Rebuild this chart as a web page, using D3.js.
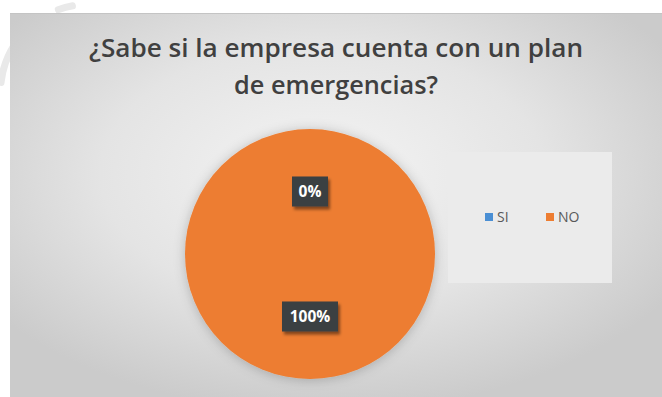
<!DOCTYPE html>
<html>
<head>
<meta charset="utf-8">
<script src="https://cdn.jsdelivr.net/npm/d3@7"></script>
<style>
  body { margin: 0; background: #fff; }
  svg { display: block; }
</style>
</head>
<body>
<script>
const categories = ['SI', 'NO'],
      values = [0, 100],
      colors = ['#4a8fd4', '#ed7d31'],
      titleLines = ['¿Sabe si la empresa cuenta con un plan', 'de emergencias?'];

const width = 662, height = 397;

const svg = d3.select('body').append('svg')
    .attr('width', width)
    .attr('height', height);

const defs = svg.append('defs');

const bg = defs.append('radialGradient')
    .attr('id', 'bg')
    .attr('cx', '48%').attr('cy', '42%').attr('r', '62%');
bg.append('stop').attr('offset', '0%').attr('stop-color', '#f4f4f4');
bg.append('stop').attr('offset', '55%').attr('stop-color', '#e4e4e4');
bg.append('stop').attr('offset', '100%').attr('stop-color', '#cbcbcb');

const glow = defs.append('filter').attr('id', 'glow')
    .attr('x', '-20%').attr('y', '-20%').attr('width', '140%').attr('height', '140%');
glow.append('feDropShadow')
    .attr('dx', 0).attr('dy', 1).attr('stdDeviation', 6)
    .attr('flood-color', '#000').attr('flood-opacity', 0.22);

const shadow = defs.append('filter').attr('id', 'shadow')
    .attr('x', '-30%').attr('y', '-30%').attr('width', '160%').attr('height', '160%');
shadow.append('feDropShadow')
    .attr('dx', 2).attr('dy', 3).attr('stdDeviation', 1.5)
    .attr('flood-color', '#000').attr('flood-opacity', 0.45);

// faint watermark ring behind the chart corner
const ring = d3.arc().innerRadius(84).outerRadius(91).cornerRadius(3);
const deg = Math.PI / 180;
svg.append('g')
    .attr('transform', 'translate(88,92)')
    .selectAll('path')
    .data([[-86, -55], [-22, -8]])
    .enter()
    .append('path')
    .attr('d', d => ring({startAngle: d[0] * deg, endAngle: d[1] * deg}))
    .attr('fill', '#e9e9e9');

// chart area
svg.append('rect')
    .attr('x', 10).attr('y', 13)
    .attr('width', width - 10).attr('height', height - 13)
    .attr('fill', 'url(#bg)');
svg.append('line')
    .attr('x1', 10).attr('x2', width).attr('y1', 13.5).attr('y2', 13.5)
    .attr('stroke', '#c4c4c4');

// title
const titleWidths = [494, 204];
svg.append('g')
    .selectAll('text')
    .data(titleLines)
    .enter()
    .append('text')
    .attr('x', 336)
    .attr('y', (d, i) => 57 + i * 37)
    .attr('text-anchor', 'middle')
    .attr('font-family', 'Open Sans, sans-serif')
    .attr('font-size', 25)
    .attr('font-weight', 600)
    .attr('fill', '#404040')
    .attr('textLength', (d, i) => titleWidths[i])
    .attr('lengthAdjust', 'spacingAndGlyphs')
    .text(d => d);

// legend box
svg.append('rect')
    .attr('x', 448).attr('y', 152)
    .attr('width', 164).attr('height', 131)
    .attr('fill', '#ebebeb');

const legend = svg.append('g').selectAll('g')
    .data(categories)
    .enter()
    .append('g')
    .attr('transform', (d, i) => `translate(${485 + i * 61},213)`);
legend.append('rect')
    .attr('width', 8).attr('height', 8)
    .attr('fill', (d, i) => colors[i]);
legend.append('text')
    .attr('x', 12).attr('y', 9)
    .attr('font-family', 'Open Sans, sans-serif')
    .attr('font-size', 14)
    .attr('fill', '#595959')
    .text(d => d);

// pie
const cx = 310, cy = 254, r = 125;
const pie = d3.pie().sort(null)(values);
const arc = d3.arc().innerRadius(0).outerRadius(r);

const g = svg.append('g').attr('transform', `translate(${cx},${cy})`);
g.append('g').attr('filter', 'url(#glow)')
  .selectAll('path')
  .data(pie)
  .enter()
  .append('path')
  .attr('d', arc)
  .attr('fill', (d, i) => colors[i]);

const total = d3.sum(values);
const labels = g.selectAll('g.lbl')
  .data(pie)
  .enter()
  .append('g')
  .attr('class', 'lbl')
  .attr('transform', d => `translate(${arc.centroid(d)})`);
labels.append('rect')
  .attr('x', d => d.data === 0 ? -18 : -28)
  .attr('y', -15)
  .attr('width', d => d.data === 0 ? 36 : 56)
  .attr('height', 30)
  .attr('fill', '#3b3f43')
  .attr('filter', 'url(#shadow)');
labels.append('text')
  .attr('text-anchor', 'middle')
  .attr('dy', '0.36em')
  .attr('font-family', 'Open Sans, sans-serif')
  .attr('font-size', 15.5)
  .attr('font-weight', 700)
  .attr('fill', '#fff')
  .text(d => Math.round(d.data / total * 100) + '%');
</script>
</body>
</html>
